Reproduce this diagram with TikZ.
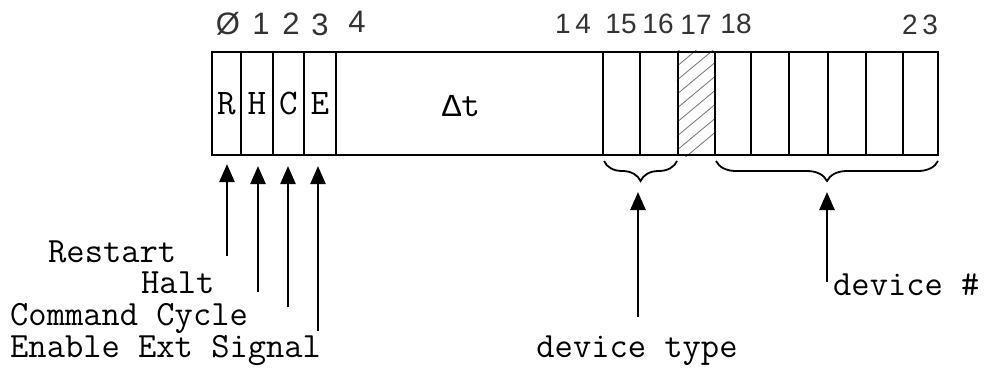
\documentclass[tikz,border=0pt]{standalone}
\usepackage{fontspec}
\newfontfamily\sym{Liberation Mono}
\newfontfamily\hand{Liberation Sans}
\usetikzlibrary{arrows.meta,decorations.pathreplacing}
\begin{document}
\begin{tikzpicture}[x=1pt,y=-1pt,
  cell/.style={draw, line width=2.1pt, minimum height=103pt, inner sep=0pt, font=\ttfamily\fontsize{36}{36}\selectfont},
  bitnum/.style={font=\hand\fontsize{31}{31}\selectfont, text=black!80, inner sep=0pt},
  bitnumb/.style={font=\hand\fontsize{28}{28}\selectfont, text=black!80, inner sep=0pt},
  lbl/.style={font=\ttfamily\fontsize{35.5}{35.5}\selectfont, inner sep=0pt},
  upar/.style={line width=2.6pt, -{Triangle[width=15pt,length=18pt]}},
  brc/.style={decorate, line width=1.8pt, decoration={brace, amplitude=20pt, mirror}}]
\useasboundingbox (0,0) rectangle (988,369);
% cells
\node[cell, minimum width=29pt] (c0) at (226.5,103.5) {R};
\node[cell, minimum width=32pt] (c1) at (257,103.5) {H};
\node[cell, minimum width=31pt] (c2) at (288.5,103.5) {C};
\node[cell, minimum width=32pt] (c3) at (320,103.5) {E};
\node[cell, minimum width=267pt] (c4) at (469.5,103.5) {};
\node[cell, minimum width=37pt] (c15) at (621.5,103.5) {};
\node[cell, minimum width=38pt] (c16) at (659,103.5) {};
\node[cell, minimum width=37pt] (c17) at (696.5,103.5) {};
\node[cell, minimum width=36pt] (c18) at (733,103.5) {};
\node[cell, minimum width=38pt] (c19) at (770,103.5) {};
\node[cell, minimum width=39pt] (c20) at (808.5,103.5) {};
\node[cell, minimum width=38pt] (c21) at (847,103.5) {};
\node[cell, minimum width=37pt] (c22) at (884.5,103.5) {};
\node[cell, minimum width=35pt] (c23) at (920.5,103.5) {};
\node[font=\ttfamily\fontsize{36}{36}\selectfont, inner sep=0pt] (dt) at (461,106) {{\sym\fontsize{32}{32}\selectfont Δ}t};
% hatching of bit 17
\begin{scope}
  \clip (c17.south west) rectangle (c17.north east);
  \foreach \k in {0,...,10} {
    \draw[black!55, line width=0.8pt] (670,170-14*\k) -- (730,120-14*\k);
  }
\end{scope}
\node[cell, minimum width=37pt] at (c17) {};
% bit numbers
\node[bitnum] (n0) at (228,24) {Ø};
\node[bitnum] (n1) at (261,24) {1};
\node[bitnum] (n2) at (291,24) {2};
\node[bitnum] (n3) at (320,25) {3};
\node[bitnum] (n4) at (357,22) {4};
\node[bitnumb] (n14) at (573,24) {1\,4};
\node[bitnumb] (n15) at (621,24) {15};
\node[bitnumb] (n16) at (658,24) {16};
\node[bitnumb] (n17) at (696,25) {17};
\node[bitnumb] (n18) at (736,24) {18};
\node[bitnumb] (n23) at (920,25) {2\,3};
% left labels
\node[lbl, anchor=base west] (restart) at (48,262) {Restart};
\node[lbl, anchor=base west] (halt) at (141,293) {Halt};
\node[lbl, anchor=base west] (cmd) at (10,325) {Command Cycle};
\node[lbl, anchor=base west] (ena) at (10,357) {Enable Ext Signal};
\coordinate (a0) at (227,256);
\coordinate (a1) at (258,292);
\coordinate (a2) at (288,307);
\coordinate (a3) at (318,331);
\draw[upar, shorten >=8pt] (a0) -- (a0 |- c0.south);
\draw[upar, shorten >=10pt] (a1) -- (a1 |- c1.south);
\draw[upar, shorten >=10pt] (a2) -- (a2 |- c2.south);
\draw[upar, shorten >=10pt] (a3) -- (a3 |- c3.south);
% braces
\coordinate (b1l) at (604,161);
\coordinate (b1r) at (677,161);
\coordinate (b2l) at (716,161);
\coordinate (b2r) at (938,161);
\draw[brc] (b1l) -- (b1r);
\draw[brc] (b2l) -- (b2r);
\coordinate (b1tip) at (638,192);
\coordinate (b2tip) at (827,192);
% right labels
\node[lbl, anchor=base] (dtype) at (637,357) {device type};
\node[lbl, anchor=base west] (dnum) at (833,295) {device \#};
\coordinate (d0) at (638,317);
\coordinate (d1) at (827,282);
\draw[upar] (d0) -- (b1tip);
\draw[upar] (d1) -- (b2tip);
\end{tikzpicture}
\end{document}
